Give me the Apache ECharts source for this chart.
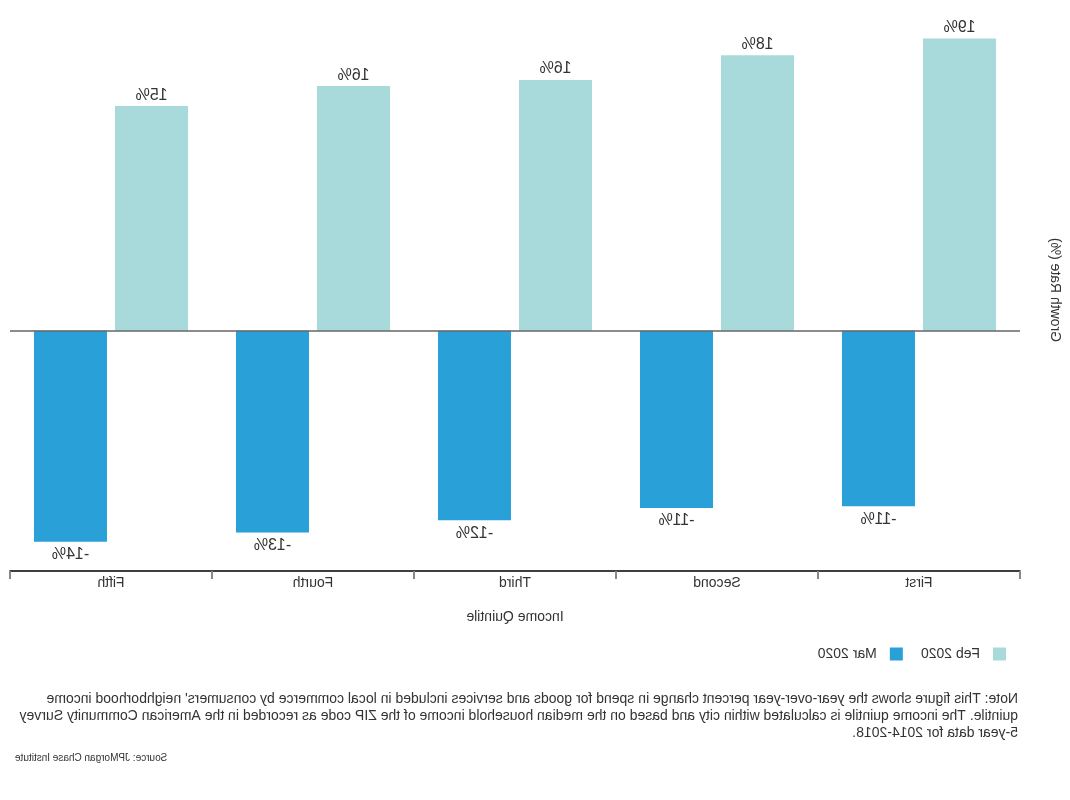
<!DOCTYPE html>
<html>
<head>
<meta charset="utf-8">
<script src="https://cdn.jsdelivr.net/npm/echarts@6/dist/echarts.min.js"></script>
<style>
html,body{margin:0;padding:0;background:#fff;}
#main{width:1070px;height:800px;transform:scaleX(-1);}
</style>
</head>
<body>
<div id="main"></div>
<script>
const categories = ['First', 'Second', 'Third', 'Fourth', 'Fifth'];
const feb2020 = [19.0, 17.9, 16.3, 15.9, 14.6];
const mar2020 = [-11.4, -11.5, -12.3, -13.1, -13.7];
const seriesNames = ['Feb 2020', 'Mar 2020'];
const yMin = -15.6, yMax = 20;
const noteLines = [
  "Note: This figure shows the year-over-year percent change in spend for goods and services included in local commerce by consumers' neighborhood income",
  "quintile. The income quintile is calculated within city and based on the median household income of the ZIP code as recorded in the American Community Survey",
  "5-year data for 2014-2018."
];
const sourceText = 'Source: JPMorgan Chase Institute';

const FONT = '"Liberation Sans", Arial, sans-serif';
const chart = echarts.init(document.getElementById('main'), null, {renderer: 'canvas'});
const fmt = p => Math.round(p.value) + '%';
chart.setOption({
  animation: false,
  backgroundColor: '#fff',
  textStyle: {fontFamily: FONT},
  grid: {left: 50, right: 10, top: 23, bottom: 229},
  legend: {
    data: seriesNames,
    left: 59, top: 642,
    itemWidth: 13, itemHeight: 13, itemGap: 18,
    icon: 'rect',
    textStyle: {fontSize: 14, color: '#333', fontFamily: FONT, padding: [0, 0, 0, 8]}
  },
  xAxis: {
    type: 'category',
    data: categories,
    position: 'bottom',
    axisLine: {onZero: false, lineStyle: {color: '#000', width: 1.5}},
    axisTick: {show: true, length: 8, lineStyle: {color: '#888', width: 2}},
    axisLabel: {fontSize: 14, color: '#333', margin: 5, fontFamily: FONT},
    name: 'Income Quintile',
    nameLocation: 'middle',
    nameGap: 39,
    nameTextStyle: {fontSize: 14, color: '#333', fontFamily: FONT}
  },
  yAxis: {
    type: 'value',
    min: yMin, max: yMax,
    axisLine: {show: false},
    axisTick: {show: false},
    axisLabel: {show: false},
    splitLine: {show: false},
    name: 'Growth Rate (%)',
    nameLocation: 'middle',
    nameGap: 28,
    nameTextStyle: {fontSize: 14, color: '#333', fontFamily: FONT, padding: [0, 0, 0, 14]}
  },
  series: [
    {
      name: seriesNames[0], type: 'bar', data: feb2020,
      barWidth: 73, barGap: '11%',
      itemStyle: {color: '#a8dadb'},
      label: {show: true, position: 'top', distance: 3, formatter: fmt, fontSize: 16, color: '#333', fontFamily: FONT},
      markLine: {
        silent: true, symbol: 'none',
        label: {show: false},
        lineStyle: {color: '#666', width: 1.5, type: 'solid'},
        data: [{yAxis: 0}]
      }
    },
    {
      name: seriesNames[1], type: 'bar', data: mar2020,
      barWidth: 73,
      itemStyle: {color: '#29a1d8'},
      label: {show: true, position: 'bottom', distance: 5, formatter: fmt, fontSize: 16, color: '#333', fontFamily: FONT}
    }
  ],
  graphic: [
    {
      type: 'text', left: 52, top: 691,
      style: {text: noteLines.join('\n'), fontSize: 14, lineHeight: 17, fill: '#333', font: '14px ' + FONT}
    },
    {
      type: 'text', right: 15, top: 753,
      style: {text: sourceText, fontSize: 10, fill: '#333', font: '10px ' + FONT}
    }
  ]
});
</script>
</body>
</html>
